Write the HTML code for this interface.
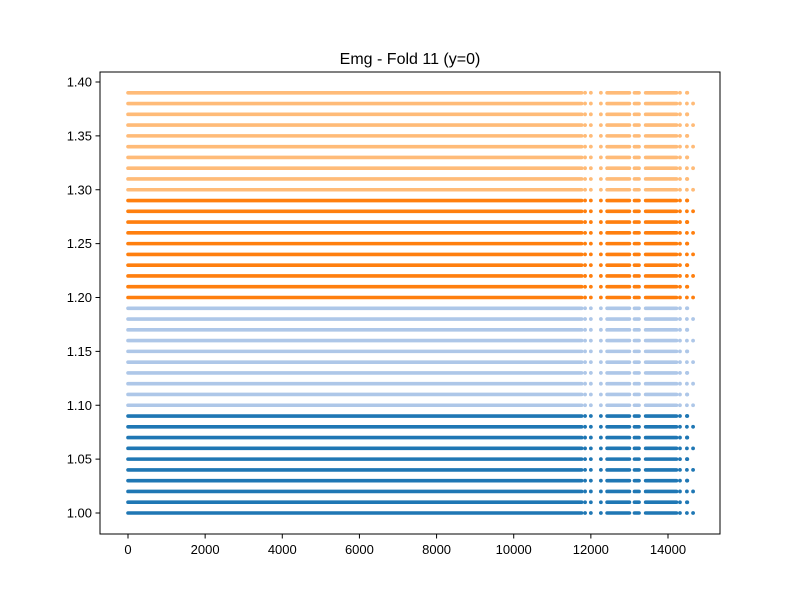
<!DOCTYPE html>
<html><head><meta charset="utf-8"><style>
body{margin:0;background:#fff;font-family:"Liberation Sans","DejaVu Sans",sans-serif}
</style></head><body>
<svg id="c" width="800" height="600" xmlns="http://www.w3.org/2000/svg">
<rect width="800" height="600" fill="#fff"/>
<text x="410" y="64" text-anchor="middle" font-size="16" fill="#000">Emg - Fold 11 (y=0)</text>
<g id="marks"></g>
<rect x="100" y="72" width="620" height="462" fill="none" stroke="#000" stroke-width="1"/>
<g id="axes"></g>
</svg>
<script>
const rowValues = [1.00,1.01,1.02,1.03,1.04,1.05,1.06,1.07,1.08,1.09,1.10,1.11,1.12,1.13,1.14,1.15,1.16,1.17,1.18,1.19,1.20,1.21,1.22,1.23,1.24,1.25,1.26,1.27,1.28,1.29,1.30,1.31,1.32,1.33,1.34,1.35,1.36,1.37,1.38,1.39];
const groupColors = ["#1f77b4","#aec7e8","#ff7f0e","#ffbb78"];
const solidSegments = [[0,11760],[12420,13000],[13130,13250],[13420,14220]];
const sparsePoints = [11850,12000,12260,14310,14490];
const lastPoint = [14650,14500];
const xTicks = [0,2000,4000,6000,8000,10000,12000,14000];
const yTicks = [1.00,1.05,1.10,1.15,1.20,1.25,1.30,1.35,1.40];

const X = v => 128 + v * 540 / 14000;
const Y = v => 513 - (v - 1.0) * 1077.5;
const NS = "http://www.w3.org/2000/svg";
const marks = document.getElementById('marks');
const axes = document.getElementById('axes');
function mk(tag, attrs, parent){const e=document.createElementNS(NS,tag);for(const k in attrs)e.setAttribute(k,attrs[k]);parent.appendChild(e);return e;}

rowValues.forEach((v,i)=>{
  const col = groupColors[Math.floor(i/10)];
  const g = mk('g',{},marks);
  
  
  const y = Y(v);
  solidSegments.forEach(s=>{
    const l = mk('line',{x1:X(s[0]),x2:X(s[1]),y1:y,y2:y,stroke:col,'stroke-width':3.6,'stroke-linecap':'round'},g);
    
    
  });
  sparsePoints.concat([lastPoint[i%2]]).forEach(p=>{
    const c = mk('circle',{cx:X(p),cy:y,r:1.9,fill:col},g);
    
    
  });
});

xTicks.forEach(t=>{
  const x=X(t);
  const l=mk('line',{x1:x,x2:x,y1:534,y2:538.5,stroke:'#000','stroke-width':1},axes);
  
  
  const tx=mk('text',{x:x,y:554,'text-anchor':'middle','font-size':13,fill:'#000'},axes);
  tx.textContent=t;
  
  
});
yTicks.forEach(t=>{
  const y=Y(t);
  const l=mk('line',{x1:95.5,x2:100,y1:y,y2:y,stroke:'#000','stroke-width':1},axes);
  
  
  const tx=mk('text',{x:92,y:y+4.5,'text-anchor':'end','font-size':13,fill:'#000'},axes);
  tx.textContent=t.toFixed(2);
  
  
});
</script>
</body></html>
